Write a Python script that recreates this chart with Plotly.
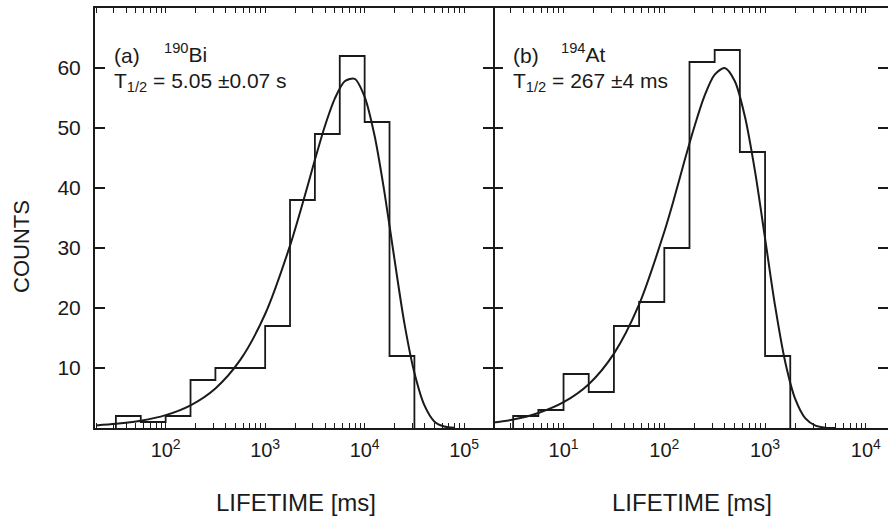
import plotly.graph_objects as go

# ---------------- data ----------------
# (a) 190Bi histogram: bin edges in log10(ms) and counts per bin
bi_edges_log = [1.5, 1.75, 2.0, 2.25, 2.5, 2.75, 3.0, 3.25, 3.5, 3.75, 4.0, 4.25, 4.5]
bi_counts = [2, 1, 2, 8, 10, 10, 17, 38, 49, 62, 51, 12]
# (a) fitted curve, sampled points (log10 ms, counts)
bi_fit_log = [1.3, 1.5, 1.75, 2.0, 2.25, 2.5, 2.75, 3.0, 3.25, 3.4, 3.5, 3.6, 3.7,
              3.8, 3.9, 4.0, 4.1, 4.2, 4.3, 4.4, 4.5, 4.6, 4.7, 4.8, 4.9]
bi_fit = [0.43, 0.69, 1.22, 2.15, 3.79, 6.60, 11.35, 19.0, 30.4, 38.8, 44.7, 50.3, 54.9,
          57.8, 58.2, 55.2, 48.7, 39.2, 28.1, 17.4, 9.2, 3.8, 1.1, 0.25, 0.03]

# (b) 194At histogram
at_edges_log = [0.5, 0.75, 1.0, 1.25, 1.5, 1.75, 2.0, 2.25, 2.5, 2.75, 3.0, 3.25]
at_counts = [2, 3, 9, 6, 17, 21, 30, 61, 63, 46, 12]
# (b) fitted curve
at_fit_log = [0.3, 0.5, 0.75, 1.0, 1.25, 1.5, 1.75, 2.0, 2.1, 2.2, 2.3, 2.4, 2.5,
              2.6, 2.7, 2.8, 2.9, 3.0, 3.1, 3.2, 3.3, 3.4, 3.5, 3.6, 3.7]
at_fit = [0.9, 1.4, 2.5, 4.3, 7.3, 12.4, 20.6, 32.7, 38.4, 44.5, 50.3, 55.4, 58.9,
          60.0, 57.8, 51.9, 42.8, 31.6, 20.3, 11.0, 4.8, 1.6, 0.4, 0.05, 0.0]

y_ticks = [10, 20, 30, 40, 50, 60]
left_decades = [2, 3, 4, 5]
right_decades = [1, 2, 3, 4]

# ---------------- helpers ----------------
def step_xy(edges_log, counts):
    e = [10 ** v for v in edges_log]
    xs = [e[0]] + e[:-1] + [e[-1], e[-1]]
    ys = [0] + counts + [counts[-1], 0]
    return xs, ys

def all_ticks(lo, hi, decades):
    vals, txt = [], []
    for d in range(lo, hi + 1):
        for m in range(1, 10):
            v = m * 10 ** d
            vals.append(v)
            txt.append("10<sup>%d</sup>" % d if (m == 1 and d in decades) else "")
    return vals, txt

FONT = "Liberation Sans, Arial, Helvetica, sans-serif"
INK = "#1a1a1a"
W, H = 889, 516
ml, mr, mt, mb = 95, 1, 8, 88
pw, ph = W - ml - mr, H - mt - mb
split = (493 - ml) / pw

def px(xp):
    return (xp - ml) / pw

def py(yp):
    return (H - mb - yp) / ph

fig = go.Figure()

bx, by = step_xy(bi_edges_log, bi_counts)
fig.add_trace(go.Scatter(x=bx, y=by, mode="lines", line=dict(color=INK, width=1.8, shape="hv"),
                         xaxis="x", yaxis="y", showlegend=False, hoverinfo="skip"))
fig.add_trace(go.Scatter(x=[10 ** v for v in bi_fit_log], y=bi_fit, mode="lines",
                         line=dict(color=INK, width=2, shape="spline", smoothing=0.8),
                         xaxis="x", yaxis="y", showlegend=False, hoverinfo="skip"))

ax, ay = step_xy(at_edges_log, at_counts)
fig.add_trace(go.Scatter(x=ax, y=ay, mode="lines", line=dict(color=INK, width=1.8, shape="hv"),
                         xaxis="x2", yaxis="y2", showlegend=False, hoverinfo="skip"))
fig.add_trace(go.Scatter(x=[10 ** v for v in at_fit_log], y=at_fit, mode="lines",
                         line=dict(color=INK, width=2, shape="spline", smoothing=0.8),
                         xaxis="x2", yaxis="y2", showlegend=False, hoverinfo="skip"))

tick_font_x = dict(family=FONT, size=20, color=INK)
minor_x = dict(type="log", showline=True, linewidth=2, linecolor=INK, mirror="ticks",
               ticks="inside", ticklen=5, tickwidth=1.3, tickcolor=INK,
               showgrid=False, zeroline=False, tickmode="array",
               tickfont=tick_font_x, ticklabelstandoff=3)
major_x = dict(type="log", showline=False, mirror="ticks", ticks="inside", ticklen=10,
               tickwidth=1.5, tickcolor=INK, showgrid=False, zeroline=False,
               tickmode="array", showticklabels=False, side="bottom")
common_y = dict(range=[0, 70], linewidth=2, linecolor=INK, mirror="ticks",
                ticks="inside", ticklen=10, tickwidth=1.5, tickcolor=INK,
                showgrid=False, zeroline=False, tickvals=y_ticks,
                tickfont=dict(family=FONT, size=21, color=INK))

lv, lt = all_ticks(1, 5, left_decades)
rv, rt = all_ticks(0, 4, right_decades)

fig.update_layout(
    width=W, height=H,
    margin=dict(l=ml, r=mr, t=mt, b=mb),
    paper_bgcolor="white", plot_bgcolor="white",
    font=dict(family=FONT, color=INK),
    xaxis=dict(domain=[0, split], range=[1.29, 5.29], anchor="y",
               tickvals=lv, ticktext=lt, **minor_x),
    xaxis2=dict(domain=[split, 1], range=[0.30, 4.22], anchor="y2",
                tickvals=rv, ticktext=rt, **minor_x),
    xaxis3=dict(overlaying="x", anchor="y", range=[1.29, 5.29],
                tickvals=[10 ** d for d in left_decades], **major_x),
    xaxis4=dict(overlaying="x2", anchor="y2", range=[0.30, 4.22],
                tickvals=[10 ** d for d in right_decades], **major_x),
    yaxis=dict(anchor="x", showline=True, showticklabels=True, ticklabelstandoff=8, **common_y),
    yaxis2=dict(anchor="x2", showline=False, showticklabels=False, **common_y),
)

ann_font = dict(family=FONT, size=21, color=INK)
anns = [
    dict(x=px(112), y=py(55), text="(a)"),
    dict(x=px(162), y=py(53), text="<sup>190</sup>Bi"),
    dict(x=px(112), y=py(82), text="T<sub>1/2</sub> = 5.05 \u00b10.07 s"),
    dict(x=px(511), y=py(55), text="(b)"),
    dict(x=px(559), y=py(53), text="<sup>194</sup>At"),
    dict(x=px(511), y=py(82), text="T<sub>1/2</sub> = 267 \u00b14 ms"),
]
for a in anns:
    fig.add_annotation(xref="paper", yref="paper", xanchor="left", yanchor="middle",
                       showarrow=False, font=ann_font, **a)

title_font = dict(family=FONT, size=24, color=INK)
fig.add_annotation(xref="paper", yref="paper", x=px(296), y=py(502), text="LIFETIME [ms]",
                   showarrow=False, xanchor="center", yanchor="middle", font=title_font)
fig.add_annotation(xref="paper", yref="paper", x=px(692), y=py(502), text="LIFETIME [ms]",
                   showarrow=False, xanchor="center", yanchor="middle", font=title_font)
fig.add_annotation(xref="paper", yref="paper", x=px(21), y=py(247), text="COUNTS",
                   showarrow=False, xanchor="center", yanchor="middle", textangle=-90,
                   font=dict(family=FONT, size=22, color=INK))

fig.write_html("out.html")
